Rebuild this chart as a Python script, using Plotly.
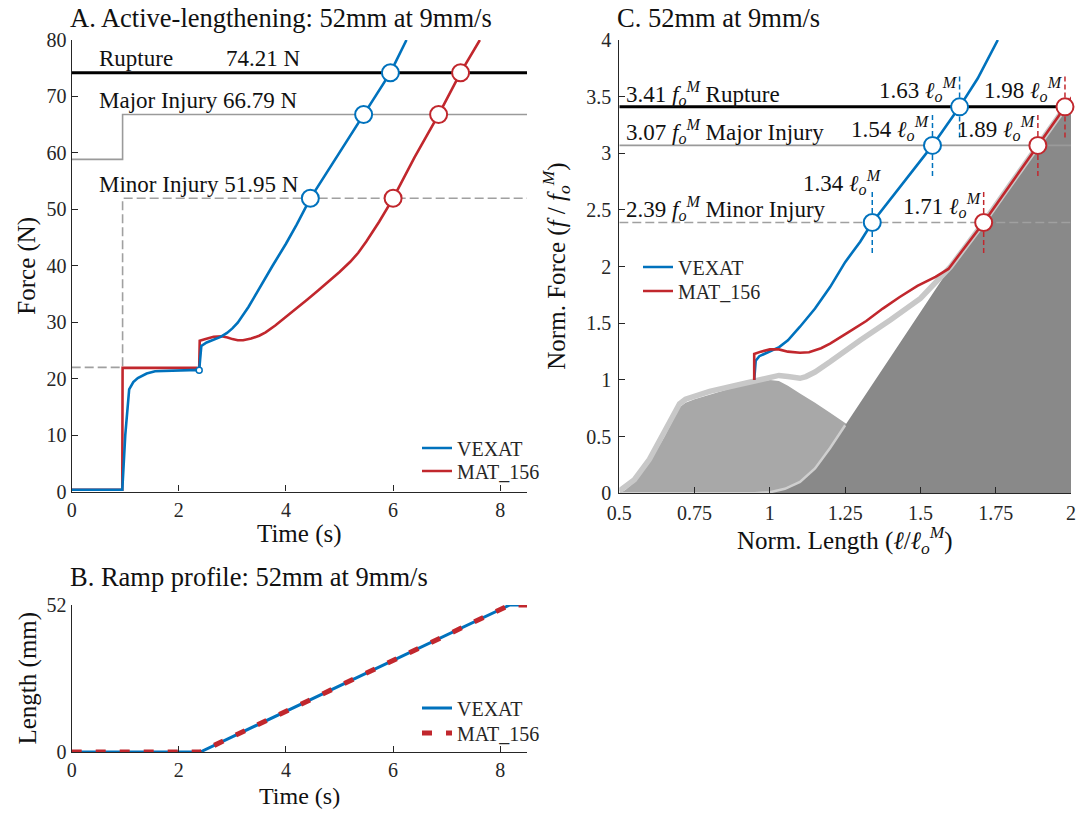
import plotly.graph_objects as go

# ---------------- data ----------------
# Panel A: force vs time
vexat_t = [0.0, 0.5, 0.944, 0.96, 1.0, 1.073, 1.15, 1.234, 1.4, 1.557, 1.9, 2.2, 2.36, 2.38, 2.4, 2.42, 2.52, 2.65, 2.78, 2.9, 3.0, 3.1, 3.2, 3.3, 3.4, 3.53, 3.75, 4.0, 4.2, 4.455, 4.95, 5.45, 5.95, 6.25]
vexat_f = [0.3, 0.3, 0.3, 3.0, 10.0, 18.1, 19.4, 20.1, 20.9, 21.3, 21.45, 21.5, 21.55, 21.5, 23.5, 25.8, 26.4, 26.9, 27.4, 28.1, 28.9, 29.9, 31.2, 32.7, 34.3, 36.5, 40.0, 43.9, 47.3, 51.95, 59.4, 66.79, 74.21, 80.0]
mat_t = [0.0, 0.5, 0.944, 0.95, 1.5, 2.0, 2.33, 2.38, 2.39, 2.5, 2.65, 2.8, 2.91, 3.0, 3.1, 3.2, 3.35, 3.5, 3.62, 3.8, 4.0, 4.2, 4.4, 4.6, 4.8, 5.0, 5.2, 5.35, 5.5, 5.74, 6.0, 6.4, 6.85, 7.26, 7.62]
mat_f = [0.3, 0.3, 0.3, 21.9, 21.9, 21.9, 21.9, 21.75, 26.7, 27.0, 27.4, 27.5, 27.3, 27.0, 26.8, 26.8, 27.1, 27.6, 28.2, 29.4, 30.9, 32.4, 34.0, 35.6, 37.2, 38.9, 40.7, 42.3, 44.3, 47.8, 51.95, 59.2, 66.79, 74.21, 80.0]

# injury thresholds (N)
thr_names = ["Rupture", "Major Injury", "Minor Injury"]
thr_force = [74.21, 66.79, 51.95]
major_t = [0.0, 0.95, 0.95, 8.5]
major_f = [58.85, 58.85, 66.79, 66.79]
minor_t = [0.0, 0.95, 0.95, 8.5]
minor_f = [22.0, 22.0, 51.95, 51.95]
rupture_t = [0.0, 8.5]
rupture_f = [74.21, 74.21]
vexat_cross_t = [5.95, 5.45, 4.455]
mat_cross_t = [7.26, 6.85, 6.0]
vexat_knot_t = [2.38]
vexat_knot_f = [21.5]

# Panel B: ramp profile
ramp_t = [0.0, 2.4, 8.18, 8.5]
ramp_len = [0.0, 0.0, 52.0, 52.0]

# Panel C: normalized force vs normalized length
c_vexat_l = [0.948, 0.95, 0.953, 0.965, 1.0, 1.031, 1.06, 1.1, 1.15, 1.2, 1.25, 1.3, 1.34, 1.44, 1.54, 1.63, 1.69, 1.757]
c_vexat_f = [1.0, 1.1, 1.17, 1.21, 1.25, 1.29, 1.35, 1.47, 1.63, 1.82, 2.04, 2.22, 2.39, 2.73, 3.07, 3.41, 3.66, 4.0]
c_mat_l = [0.948, 0.948, 0.97, 1.0, 1.03, 1.06, 1.1, 1.13, 1.17, 1.2, 1.26, 1.32, 1.375, 1.43, 1.49, 1.55, 1.593, 1.65, 1.71, 1.8, 1.89, 1.98, 2.02]
c_mat_f = [1.0, 1.23, 1.25, 1.27, 1.27, 1.25, 1.24, 1.245, 1.28, 1.32, 1.42, 1.52, 1.63, 1.73, 1.83, 1.91, 1.98, 2.18, 2.39, 2.73, 3.07, 3.41, 3.56]
active_l = [0.5, 0.52, 0.55, 0.6, 0.65, 0.7, 0.72, 0.75, 0.8, 0.85, 0.9, 0.95, 1.0, 1.03, 1.06, 1.1, 1.15, 1.2, 1.25, 1.3, 1.4, 1.5, 1.6, 1.65]
active_f = [0.0, 0.03, 0.1, 0.27, 0.5, 0.76, 0.8, 0.83, 0.87, 0.91, 0.95, 0.98, 1.0, 0.99, 0.95, 0.88, 0.8, 0.71, 0.62, 0.53, 0.35, 0.18, 0.05, 0.0]
passive_l = [0.5, 0.95, 1.0, 1.05, 1.1, 1.15, 1.2, 1.25, 1.3, 1.4, 1.5, 1.6, 1.71, 1.8, 1.89, 1.98, 2.0]
passive_f = [0.0, 0.0, 0.01, 0.04, 0.1, 0.22, 0.4, 0.6, 0.8, 1.2, 1.6, 2.0, 2.39, 2.73, 3.07, 3.41, 3.48]
total_l = [0.5, 0.55, 0.6, 0.65, 0.7, 0.72, 0.75, 0.8, 0.85, 0.9, 0.95, 0.98, 1.0, 1.03, 1.06, 1.08, 1.1, 1.12, 1.15, 1.2, 1.25, 1.3, 1.4, 1.5, 1.6, 1.71, 1.8, 1.89, 1.98, 2.0]
total_f = [0.02, 0.12, 0.3, 0.55, 0.79, 0.83, 0.86, 0.9, 0.93, 0.96, 0.99, 1.01, 1.03, 1.04, 1.03, 1.02, 1.015, 1.03, 1.07, 1.16, 1.26, 1.35, 1.53, 1.72, 2.0, 2.39, 2.73, 3.07, 3.41, 3.48]
thr_norm = [3.41, 3.07, 2.39]
vexat_cross_l = [1.63, 1.54, 1.34]
mat_cross_l = [1.98, 1.89, 1.71]

# ---------------- style ----------------
W, H = 1079, 814
FONT = "Liberation Serif, Times New Roman, serif"
BLUE = "#0072BD"
RED = "#C1272D"
AX = "#262626"
LIGHT_FILL = "#a8a8a8"
DARK_FILL = "#898989"
LIGHT_LINE = "#c8c8c8"


def dom_x(a, b):
    return [a / W, b / W]


def dom_y(top, bottom):
    return [1 - bottom / H, 1 - top / H]


fig = go.Figure()

# ---------- Panel A ----------
fig.add_trace(go.Scatter(x=major_t, y=major_f, mode="lines", line=dict(color="#9a9a9a", width=1.6),
                         showlegend=False, hoverinfo="skip", xaxis="x", yaxis="y"))
fig.add_trace(go.Scatter(x=minor_t, y=minor_f, mode="lines", line=dict(color="#a0a0a0", width=1.6, dash="9px,4px"),
                         showlegend=False, hoverinfo="skip", xaxis="x", yaxis="y"))
fig.add_trace(go.Scatter(x=rupture_t, y=rupture_f, mode="lines", line=dict(color="#000000", width=3),
                         showlegend=False, hoverinfo="skip", xaxis="x", yaxis="y"))
fig.add_trace(go.Scatter(x=mat_t, y=mat_f, mode="lines", line=dict(color=RED, width=2.6),
                         name="MAT_156", legend="legend2", xaxis="x", yaxis="y"))
fig.add_trace(go.Scatter(x=vexat_t, y=vexat_f, mode="lines", line=dict(color=BLUE, width=2.6),
                         name="VEXAT", legend="legend", xaxis="x", yaxis="y"))
fig.add_trace(go.Scatter(x=vexat_knot_t, y=vexat_knot_f, mode="markers",
                         marker=dict(symbol="circle", size=6, color="white", line=dict(color=BLUE, width=1.5)),
                         showlegend=False, hoverinfo="skip", xaxis="x", yaxis="y"))
fig.add_trace(go.Scatter(x=vexat_cross_t, y=thr_force, mode="markers",
                         marker=dict(symbol="circle", size=17, color="white", line=dict(color=BLUE, width=2)),
                         showlegend=False, hoverinfo="skip", xaxis="x", yaxis="y"))
fig.add_trace(go.Scatter(x=mat_cross_t, y=thr_force, mode="markers",
                         marker=dict(symbol="circle", size=17, color="white", line=dict(color=RED, width=2)),
                         showlegend=False, hoverinfo="skip", xaxis="x", yaxis="y"))

# ---------- Panel B ----------
fig.add_trace(go.Scatter(x=ramp_t, y=ramp_len, mode="lines", line=dict(color=BLUE, width=3),
                         name="VEXAT", legend="legend3", xaxis="x2", yaxis="y2"))
fig.add_trace(go.Scatter(x=ramp_t, y=ramp_len, mode="lines", line=dict(color=RED, width=5, dash="10px,14px"),
                         name="MAT_156", legend="legend4", xaxis="x2", yaxis="y2"))

# ---------- Panel C ----------
fig.add_trace(go.Scatter(x=active_l, y=active_f, mode="lines", fill="tozeroy", fillcolor=LIGHT_FILL,
                         line=dict(width=0, color=LIGHT_FILL), showlegend=False, hoverinfo="skip",
                         xaxis="x3", yaxis="y3"))
fig.add_trace(go.Scatter(x=passive_l, y=passive_f, mode="lines", fill="tozeroy", fillcolor=DARK_FILL,
                         line=dict(width=0, color=DARK_FILL), showlegend=False, hoverinfo="skip",
                         xaxis="x3", yaxis="y3"))
fig.add_trace(go.Scatter(x=passive_l[:8], y=passive_f[:8], mode="lines", line=dict(color="#cfcfcf", width=2.5),
                         showlegend=False, hoverinfo="skip", xaxis="x3", yaxis="y3"))
fig.add_trace(go.Scatter(x=total_l, y=total_f, mode="lines", line=dict(color=LIGHT_LINE, width=5.5),
                         showlegend=False, hoverinfo="skip", xaxis="x3", yaxis="y3"))
fig.add_trace(go.Scatter(x=[0.5, 2.0], y=[thr_norm[1]] * 2, mode="lines", line=dict(color="#9a9a9a", width=1.6),
                         showlegend=False, hoverinfo="skip", xaxis="x3", yaxis="y3"))
fig.add_trace(go.Scatter(x=[0.5, 2.0], y=[thr_norm[2]] * 2, mode="lines",
                         line=dict(color="#a0a0a0", width=1.6, dash="9px,4px"),
                         showlegend=False, hoverinfo="skip", xaxis="x3", yaxis="y3"))
fig.add_trace(go.Scatter(x=[0.5, 2.0], y=[thr_norm[0]] * 2, mode="lines", line=dict(color="#000000", width=3),
                         showlegend=False, hoverinfo="skip", xaxis="x3", yaxis="y3"))
HALF = 0.27
for lv, fv in zip(vexat_cross_l, thr_norm):
    fig.add_trace(go.Scatter(x=[lv, lv], y=[fv - HALF, fv + HALF], mode="lines",
                             line=dict(color=BLUE, width=1.5, dash="5px,3px"),
                             showlegend=False, hoverinfo="skip", xaxis="x3", yaxis="y3"))
for lv, fv in zip(mat_cross_l, thr_norm):
    fig.add_trace(go.Scatter(x=[lv, lv], y=[fv - HALF, fv + HALF], mode="lines",
                             line=dict(color=RED, width=1.5, dash="5px,3px"),
                             showlegend=False, hoverinfo="skip", xaxis="x3", yaxis="y3"))
fig.add_trace(go.Scatter(x=c_vexat_l, y=c_vexat_f, mode="lines", line=dict(color=BLUE, width=2.6),
                         name="VEXAT", legend="legend5", xaxis="x3", yaxis="y3"))
fig.add_trace(go.Scatter(x=c_mat_l, y=c_mat_f, mode="lines", line=dict(color=RED, width=2.6),
                         name="MAT_156", legend="legend6", xaxis="x3", yaxis="y3"))
fig.add_trace(go.Scatter(x=vexat_cross_l, y=thr_norm, mode="markers",
                         marker=dict(symbol="circle", size=17, color="white", line=dict(color=BLUE, width=2)),
                         showlegend=False, hoverinfo="skip", xaxis="x3", yaxis="y3", cliponaxis=False))
fig.add_trace(go.Scatter(x=mat_cross_l, y=thr_norm, mode="markers",
                         marker=dict(symbol="circle", size=17, color="white", line=dict(color=RED, width=2)),
                         showlegend=False, hoverinfo="skip", xaxis="x3", yaxis="y3", cliponaxis=False))

# ---------------- axes ----------------
def axis(**kw):
    base = dict(showline=True, linecolor=AX, linewidth=1.3, ticks="inside", ticklen=6, tickwidth=1.3,
                tickcolor=AX, showgrid=False, zeroline=False, mirror=False, automargin=False,
                tickfont=dict(family=FONT, size=20, color=AX))
    base.update(kw)
    return base


xa = dom_x(71.7, 527)
fig.update_layout(
    xaxis=axis(domain=xa, range=[0, 8.5], tickvals=[0, 2, 4, 6, 8], anchor="y"),
    yaxis=axis(domain=dom_y(40, 491.5), range=[0, 80], tickvals=[0, 10, 20, 30, 40, 50, 60, 70, 80], anchor="x"),
    xaxis2=axis(domain=xa, range=[0, 8.5], tickvals=[0, 2, 4, 6, 8], anchor="y2"),
    yaxis2=axis(domain=dom_y(605, 752), range=[0, 52], tickvals=[0, 52], anchor="x2"),
    xaxis3=axis(domain=dom_x(619.3, 1071), range=[0.5, 2.0],
                tickvals=[0.5, 0.75, 1, 1.25, 1.5, 1.75, 2], ticktext=["0.5", "0.75", "1", "1.25", "1.5", "1.75", "2"],
                anchor="y3", ticklabelstandoff=2),
    yaxis3=axis(domain=dom_y(40, 493.3), range=[0, 4],
                tickvals=[0, 0.5, 1, 1.5, 2, 2.5, 3, 3.5, 4],
                ticktext=["0", "0.5", "1", "1.5", "2", "2.5", "3", "3.5", "4"], anchor="x3",
                ticklabelstandoff=3),
)

legend_style = dict(bgcolor="rgba(0,0,0,0)", borderwidth=0, font=dict(family=FONT, size=20, color=AX),
                    xanchor="left", yanchor="middle", tracegroupgap=0, itemwidth=30)
LX_AB = 417 / W
LX_C = 638 / W
fig.update_layout(
    legend=dict(x=LX_AB, y=1 - 448 / H, **legend_style),
    legend2=dict(x=LX_AB, y=1 - 471 / H, **legend_style),
    legend3=dict(x=LX_AB, y=1 - 708 / H, **legend_style),
    legend4=dict(x=LX_AB, y=1 - 733 / H, **legend_style),
    legend5=dict(x=LX_C, y=1 - 267 / H, **legend_style),
    legend6=dict(x=LX_C, y=1 - 291 / H, **legend_style),
)

# ---------------- text ----------------
ann = []


def txt(x, y, s, size, xanchor="left", yanchor="middle", angle=0, xref="paper", yref="paper"):
    ann.append(dict(x=x, y=y, xref=xref, yref=yref, text=s, showarrow=False, xanchor=xanchor,
                    yanchor=yanchor, textangle=angle, font=dict(family=FONT, size=size, color="#111111")))


FO = "<i>f</i><sub><i>o</i></sub><sup><i>M</i></sup>"
LO = "<i>ℓ</i><sub><i>o</i></sub><sup><i>M</i></sup>"

# titles
txt(68 / W, 1 - 18 / H, "A. Active-lengthening: 52mm at 9mm/s", 26.5)
txt(68 / W, 1 - 577 / H, "B. Ramp profile: 52mm at 9mm/s", 26.5)
txt(615 / W, 1 - 18 / H, "C. 52mm at 9mm/s", 26.5)

# axis titles
txt(27 / W, 1 - 265.7 / H, "Force (N)", 25, xanchor="center", angle=-90)
txt(299.4 / W, 1 - 534 / H, "Time (s)", 25, xanchor="center")
txt(27 / W, 1 - 678.5 / H, "Length (mm)", 25, xanchor="center", angle=-90)
txt(299.4 / W, 1 - 796 / H, "Time (s)", 24, xanchor="center")
txt(556 / W, 1 - 266.7 / H, "Norm. Force (<i>f</i> / " + FO + ")", 25, xanchor="center", angle=-90)
txt(845 / W, 1 - 540 / H, "Norm. Length (<i>ℓ</i>/" + LO + ")", 25, xanchor="center")

# panel A threshold labels
txt(0.47, thr_force[0] + 2.5, thr_names[0], 23, xref="x", yref="y")
txt(2.85, thr_force[0] + 2.5, f"{thr_force[0]:.2f} N", 23, xref="x", yref="y")
txt(0.47, thr_force[1] + 2.5, f"{thr_names[1]} {thr_force[1]:.2f} N", 23, xref="x", yref="y")
txt(0.47, thr_force[2] + 2.5, f"{thr_names[2]} {thr_force[2]:.2f} N", 23, xref="x", yref="y")

# panel C threshold labels
for name, fv in zip(thr_names, thr_norm):
    txt(0.515, fv + 0.12, f"{fv:.2f} {FO} {name}", 23, xref="x3", yref="y3")
for lv, fv in zip(vexat_cross_l, thr_norm):
    dx = 0.04 if lv == vexat_cross_l[-1] else 0.0
    dy = 0.35 if lv == vexat_cross_l[-1] else 0.15
    txt(lv + dx, fv + dy, f"{lv:.2f} {LO}", 23, xanchor="right", xref="x3", yref="y3")
for lv, fv in zip(mat_cross_l, thr_norm):
    txt(lv, fv + 0.15, f"{lv:.2f} {LO}", 23, xanchor="right", xref="x3", yref="y3")

fig.update_layout(
    annotations=ann,
    width=W, height=H,
    margin=dict(l=0, r=0, t=0, b=0, autoexpand=False),
    paper_bgcolor="white", plot_bgcolor="white",
    font=dict(family=FONT, color=AX),
)

fig.write_html("out.html")
